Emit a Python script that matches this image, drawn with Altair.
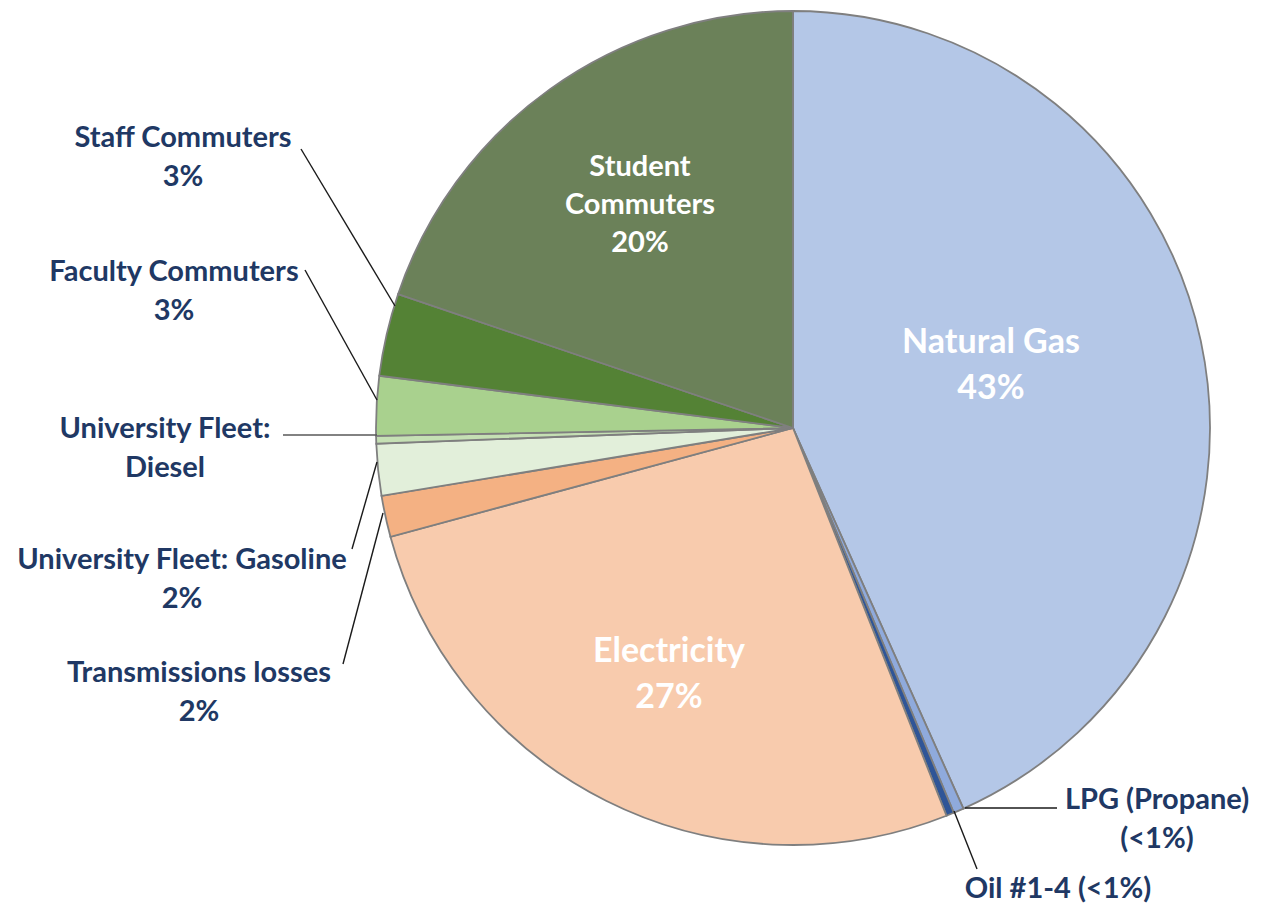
import altair as alt
import pandas as pd

# ---- data (clockwise from 12 o'clock) ----
categories = ["Natural Gas", "LPG (Propane)", "Oil #1-4", "Electricity",
              "Transmissions losses", "University Fleet: Gasoline",
              "University Fleet: Diesel", "Faculty Commuters",
              "Staff Commuters", "Student Commuters"]
values = [43.3, 0.4, 0.3, 26.8, 1.6, 2.0, 0.3, 2.3, 3.2, 19.8]
colors = ["#b4c7e7", "#8faadc", "#2f5597", "#f8cbad", "#f4b183",
          "#e2efda", "#c5e0b4", "#a9d18e", "#548235", "#6b8159"]

label_texts_out = ["Staff Commuters\n3%", "Faculty Commuters\n3%",
                   "University Fleet:\nDiesel", "University Fleet: Gasoline\n2%",
                   "Transmissions losses\n2%", "LPG (Propane)\n(<1%)",
                   "Oil #1-4 (<1%)"]
label_texts_in_big = ["Natural Gas\n43%", "Electricity\n27%"]
label_texts_in_small = ["Student\nCommuters\n20%"]

# ---- layout (page pixel coordinates; page has 8px margin) ----
OFF = 8
cx, cy, R = 793 - OFF, 428 - OFF, 417
out_pos = [(183, 138), (174, 272), (165, 429), (182, 560), (199, 673),
           (1157, 800), (1058, 889)]
in_big_pos = [(991, 343), (669, 652)]
in_small_pos = [(640, 167)]
leaders = [((301, 149), (395, 306)), ((305, 270), (377, 400)),
           ((283, 435), (377, 435)), ((352, 549), (377, 462)),
           ((343, 664), (383, 513)), ((965, 808), (1057, 808)),
           ((954, 811), (977, 869))]
leader_colors = ["#1a1a1a", "#1a1a1a", "#595959", "#1a1a1a", "#1a1a1a",
                 "#1a1a1a", "#1a1a1a"]

df = pd.DataFrame({"category": categories, "value": values,
                   "order": list(range(len(categories)))})

pie = alt.Chart(df).mark_arc(radius=R, stroke="#7f7f7f", strokeWidth=1.8).encode(
    theta=alt.Theta("value:Q", stack=True),
    order=alt.Order("order:Q"),
    color=alt.Color("category:N", scale=alt.Scale(domain=categories, range=colors),
                    legend=None),
    x=alt.value(cx), y=alt.value(cy),
)

def text_layer(texts, pos, color, size, lh):
    d = pd.DataFrame({"t": texts, "x": [p[0] - OFF for p in pos],
                      "y": [p[1] - OFF for p in pos]})
    return alt.Chart(d).mark_text(font="Lato", fontWeight="bold", fontSize=size,
                                  color=color, align="center", baseline="middle",
                                  lineBreak="\n", lineHeight=lh).encode(
        x=alt.X("x:Q", scale=None), y=alt.Y("y:Q", scale=None), text="t:N")

ldf = pd.DataFrame({"x": [a[0] - OFF for a, b in leaders], "y": [a[1] - OFF for a, b in leaders],
                    "x2": [b[0] - OFF for a, b in leaders], "y2": [b[1] - OFF for a, b in leaders],
                    "c": leader_colors})
rules = alt.Chart(ldf).mark_rule(strokeWidth=1.4).encode(
    x=alt.X("x:Q", scale=None), y=alt.Y("y:Q", scale=None), x2="x2:Q", y2="y2:Q",
    color=alt.Color("c:N", scale=None))

navy = "#203864"
chart = alt.layer(
    pie, rules,
    text_layer(label_texts_out, out_pos, navy, 29, 39),
    text_layer(label_texts_in_big, in_big_pos, "white", 34, 46),
    text_layer(label_texts_in_small, in_small_pos, "white", 29, 38),
).properties(width=1249, height=896, autosize="none", padding=0
).configure_view(stroke=None)

chart.save("out.html", embed_options={"renderer": "svg", "actions": False})
